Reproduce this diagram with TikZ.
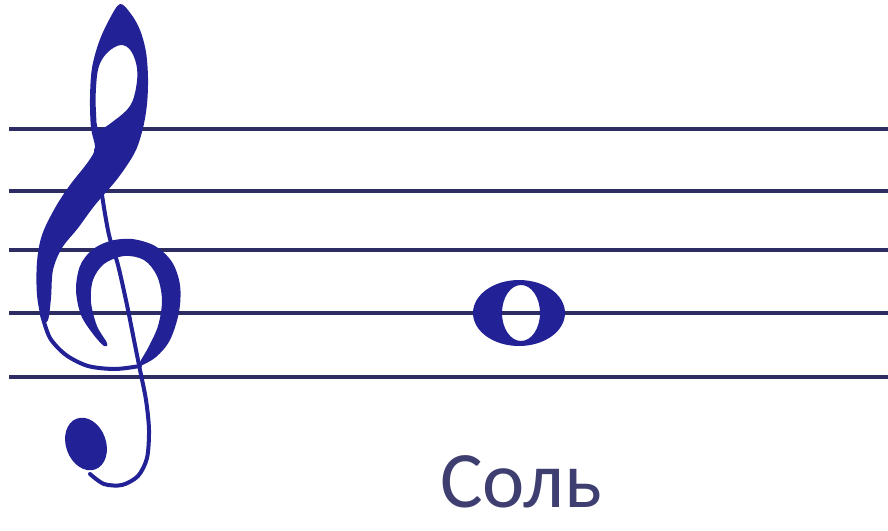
\documentclass[tikz,border=0pt]{standalone}
\usepackage{fontspec}
\newfontfamily\notefont{Carlito}
\definecolor{clefblue}{RGB}{34,34,150}
\definecolor{staffgray}{RGB}{45,45,100}
\definecolor{namegray}{RGB}{62,62,112}

\begin{document}
\begin{tikzpicture}[x=0.5pt,y=-0.5pt]
\tikzstyle{staff} = [draw=staffgray, line width=1.6pt]
\tikzstyle{ink} = [fill=clefblue, even odd rule]
\tikzstyle{thin} = [draw=clefblue, line width=2pt, line cap=round]
\tikzstyle{notename} = [text=namegray, font=\notefont\fontsize{40}{48}\selectfont, anchor=base]

\useasboundingbox (0,0) rectangle (888,530);

\draw[staff] (9,129) -- (888,129);
\draw[staff] (9,191) -- (888,191);
\draw[staff] (9,250) -- (888,250);
\draw[staff] (9,313) -- (888,313);
\draw[staff] (9,377) -- (888,377);

\fill[ink] plot[smooth cycle, tension=0.55] coordinates {(120,4) (131,14) (140,30) (146,52) (148,78) (147,104) (143,128) (135,152) (118,178) (95,205) (78,228) (62,248) (53,270) (51,298) (48,320) (42,320) (37,295) (37,262) (42,235) (55,208) (70,185) (88,162) (95,148) (91,128) (90,98) (92,68) (99,42) (109,20)}
  plot[smooth cycle, tension=0.6] coordinates {(121,45) (131,51) (137,68) (136,88) (130,106) (115,120) (99,129) (96,112) (96,88) (99,66) (108,52)};
\draw[thin] plot[smooth] coordinates {(96,150) (102,195) (109,235) (118,265) (127,305) (134,340) (140,370) (146,400) (149,430) (147,458) (138,476) (122,485) (104,484) (90,474)};
\draw[thin] plot[smooth] coordinates {(42,315) (50,338) (66,355) (88,366) (115,369) (140,366)};
\fill[ink] plot[smooth cycle, tension=0.55] coordinates {(140,366) (156,357) (170,340) (179,312) (180,285) (172,262) (155,246) (132,239) (110,241) (92,250) (80,266) (76,290) (81,315) (93,334) (104,346) (107,343) (97,326) (91,302) (93,280) (104,264) (124,256) (144,260) (157,276) (162,300) (158,326) (148,348) (140,362)};
\fill[clefblue, rotate around={20:(86,444)}] (86,444) ellipse (20 and 27);

\fill[ink] (519,313) ellipse (46 and 33) (521,313) ellipse (19 and 28);

\node[notename] (sol) at (521,507) {Соль};
\end{tikzpicture}
\end{document}
